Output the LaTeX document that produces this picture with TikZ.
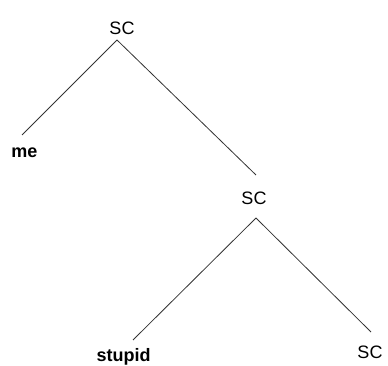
\documentclass[tikz,border=0pt]{standalone}
\usepackage{fontspec}
\setmainfont{Liberation Sans}
\usepackage{tikz}

\tikzset{
    cat/.style={inner sep=0pt, outer sep=0pt, text height=13bp, text depth=4bp,
        font=\fontsize{18bp}{20bp}\selectfont},
    word/.style={cat, font=\fontsize{18bp}{20bp}\selectfont\bfseries},
    branch/.style={line width=0.8bp, black!80}
}

\begin{document}
\begin{tikzpicture}[x=1bp, y=1bp]
    \useasboundingbox (0,0) rectangle (388,366);

    % Labels
    \node[cat, anchor=base] (sc1) at (122,332) {SC};
    \node[word, anchor=base] (me) at (24.5,209) {me};
    \node[cat, anchor=base] (sc2) at (254,162) {SC};
    \node[word, anchor=base] (stupid) at (123.5,5) {stupid};
    \node[cat, anchor=base] (sc3) at (370,8) {SC};

    % Branches
    \draw[branch] ([shift={(-5,-2)}]sc1.south) -- ([shift={(-2.5,9)}]me.north);
    \draw[branch] ([shift={(-5,-2)}]sc1.south) -- ([shift={(2,16)}]sc2.north);
    \draw[branch] ([shift={(2,-10)}]sc2.south) -- ([shift={(9.5,8)}]stupid.north);
    \draw[branch] ([shift={(2,-10)}]sc2.south) -- ([shift={(1,13)}]sc3.north);
\end{tikzpicture}
\end{document}
